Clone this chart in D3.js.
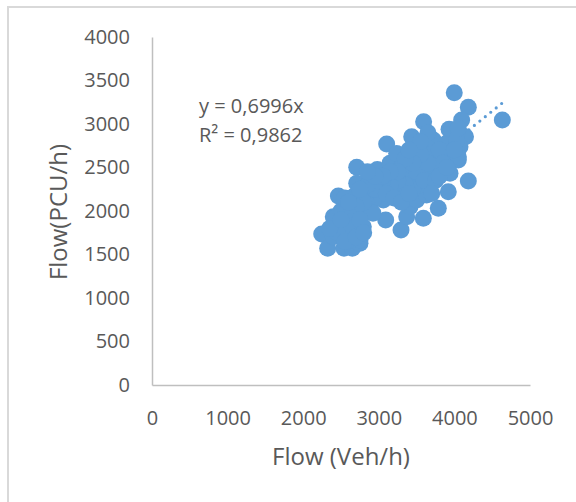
<!DOCTYPE html>
<html>
<head>
<meta charset="utf-8">
<script src="https://cdn.jsdelivr.net/npm/d3@7"></script>
<style>
  body { margin: 0; background: #fff; }
  text { font-family: "Open Sans", "Noto Sans", sans-serif; fill: #595959; }
</style>
</head>
<body>
<div id="chart"></div>
<script>
// flow in veh/h (x) vs flow in PCU/h (y)
const flowVeh = [3998, 4184, 4634, 4096, 3593, 3929, 3104, 3435, 4147, 4184,
  2708, 2980, 2465, 2245, 2324, 2540, 2650, 3294, 3091, 3589,
  3787, 3919, 4052, 4074, 2398, 2708, 2751, 2884, 3369, 3633,
  3280, 3721, 3898, 3763, 3942, 3501, 3148, 2884, 2708, 3191,
  3016, 2840, 2575, 2487, 2619, 2398, 2795, 3413, 3501, 3677,
  3810, 3589, 3369, 3457, 3633, 3853, 3236, 3060, 2928, 2663,
  2531, 2663, 3963, 4030, 3942, 2443, 2840, 2575, 2751, 3633,
  2923, 4052, 3236,
  3300, 3400, 3500, 3600, 3700, 3550, 3450, 3350, 3250, 3150,
  3050, 2950, 2850, 2800, 2700, 2600, 2500, 2550, 2650, 2750,
  3100, 3200, 3300, 3400, 3500, 3600, 3700, 3800, 3850, 3750,
  3650, 3550, 3450, 3350, 3250, 3150, 3050, 2950, 2850, 3700,
  3800, 3900, 4000, 4050, 3650, 3550, 3400, 2600, 2450, 2550,
  2350, 2500, 2700, 2800, 2750];
const flowPcu = [3360, 3192, 3046, 3046, 3027, 2939, 2770, 2854, 2854, 2345,
  2502, 2478, 2172, 1736, 1571, 1571, 1571, 1782, 1897, 1916,
  2031, 2222, 2586, 2739, 1935, 1973, 1629, 2011, 1935, 2241,
  2624, 2816, 2778, 2586, 2433, 2356, 2548, 2356, 2318, 2394,
  2280, 2203, 2050, 1820, 1743, 1705, 1820, 2050, 2126, 2394,
  2471, 2471, 2471, 2662, 2739, 2662, 2241, 2126, 2126, 2165,
  1897, 1897, 2931, 2816, 2624, 1935, 2088, 1648, 1667, 2184,
  1973, 2624, 2662,
  2500, 2400, 2550, 2600, 2500, 2300, 2250, 2300, 2350, 2300,
  2350, 2250, 2300, 2100, 2050, 1950, 2000, 2150, 1800, 1900,
  2200, 2150, 2100, 2200, 2450, 2350, 2650, 2700, 2550, 2350,
  2550, 2650, 2550, 2600, 2450, 2450, 2400, 2400, 2450, 2200,
  2400, 2500, 2700, 2950, 2900, 2800, 2700, 2100, 1750, 1650,
  1800, 1900, 1700, 1750, 2250];
const slope = 0.6996;
const eqLabels = ["y = 0,6996x", "R² = 0,9862"];
const xTicks = [0, 1000, 2000, 3000, 4000, 5000];
const yTicks = [0, 500, 1000, 1500, 2000, 2500, 3000, 3500, 4000];

const width = 576, height = 502;
const blue = "#5b9bd5", grid = "#bfbfbf";

const svg = d3.select("#chart").append("svg")
  .attr("width", width).attr("height", height);

// outer chart border (runs past the right and bottom edge)
svg.append("rect")
  .attr("x", 8).attr("y", 7).attr("width", 620).attr("height", 620)
  .attr("fill", "none").attr("stroke", "#d9d9d9").attr("stroke-width", 2);

const x = d3.scaleLinear().domain([0, 5000]).range([152, 530]);
const y = d3.scaleLinear().domain([0, 4000]).range([385, 37]);

const xAxis = svg.append("g").attr("transform", `translate(0,${y(0)})`)
  .call(d3.axisBottom(x).tickValues(xTicks).tickSize(0).tickPadding(26).tickFormat(d3.format("d")));
const yAxis = svg.append("g").attr("transform", `translate(${x(0)},0)`)
  .call(d3.axisLeft(y).tickValues(yTicks).tickSize(0).tickPadding(22).tickFormat(d3.format("d")));
[xAxis, yAxis].forEach(a => {
  a.select(".domain").attr("stroke", grid).attr("stroke-width", 1.5);
  a.selectAll("text").attr("font-size", 20).attr("fill", "#595959")
    .attr("font-family", "'Open Sans', 'Noto Sans', sans-serif");
});

// dotted linear trendline through origin, behind the markers
const xmin = d3.min(flowVeh), xmax = d3.max(flowVeh);
svg.append("line")
  .attr("x1", x(xmin)).attr("y1", y(slope * xmin))
  .attr("x2", x(xmax)).attr("y2", y(slope * xmax))
  .attr("stroke", blue).attr("stroke-width", 3.2)
  .attr("stroke-linecap", "round").attr("stroke-dasharray", "0 7");

svg.append("g").selectAll("circle")
  .data(d3.zip(flowVeh, flowPcu))
  .join("circle")
  .attr("cx", d => x(d[0])).attr("cy", d => y(d[1]))
  .attr("r", 8.5).attr("fill", blue);

// trendline equation
svg.append("g").selectAll("text").data(eqLabels).join("text")
  .attr("x", 199).attr("y", (d, i) => 113 + i * 29)
  .attr("font-size", 20).text(d => d);

// axis titles
svg.append("text").attr("x", 341).attr("y", 465)
  .attr("text-anchor", "middle").attr("font-size", 24).text("Flow (Veh/h)");
svg.append("text")
  .attr("transform", `translate(67,212) rotate(-90)`)
  .attr("text-anchor", "middle").attr("font-size", 24).text("Flow(PCU/h)");
</script>
</body>
</html>
